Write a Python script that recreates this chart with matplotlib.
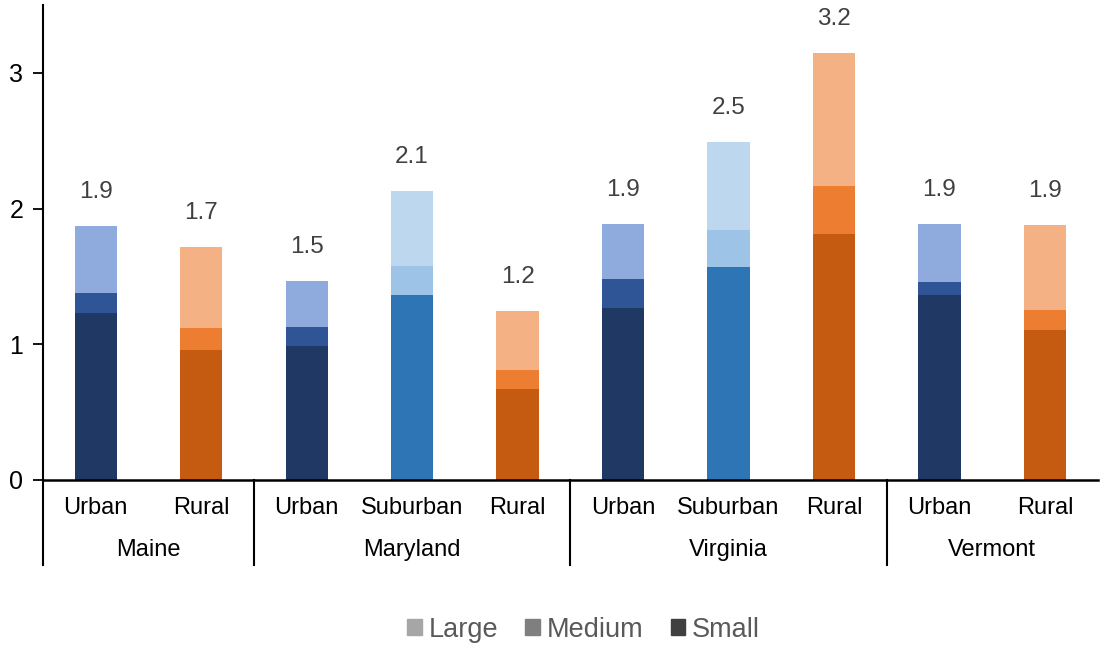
import matplotlib.pyplot as plt
import numpy as np
from matplotlib.patches import Patch
from matplotlib.transforms import blended_transform_factory

plt.rcParams['font.family'] = ['Liberation Sans', 'DejaVu Sans']

# data
states = ['Maine', 'Maryland', 'Virginia', 'Vermont']
areas = [['Urban', 'Rural'],
         ['Urban', 'Suburban', 'Rural'],
         ['Urban', 'Suburban', 'Rural'],
         ['Urban', 'Rural']]
small = [1.23, 0.96, 0.99, 1.36, 0.67, 1.27, 1.57, 1.81, 1.36, 1.105]
medium = [0.15, 0.16, 0.14, 0.22, 0.14, 0.21, 0.27, 0.36, 0.10, 0.145]
large = [0.49, 0.60, 0.34, 0.55, 0.435, 0.41, 0.65, 0.98, 0.43, 0.63]
totals = ['1.9', '1.7', '1.5', '2.1', '1.2', '1.9', '2.5', '3.2', '1.9', '1.9']

colors = {
    'Urban': ['#203864', '#2F5597', '#8FAADC'],
    'Suburban': ['#2E75B6', '#9DC3E6', '#BDD7EE'],
    'Rural': ['#C55A11', '#ED7D31', '#F4B183'],
}

cats = [a for grp in areas for a in grp]
x = np.arange(len(cats))

fig = plt.figure(figsize=(11.01, 6.46), dpi=100)
ax = fig.add_axes([0.039, 0.257, 0.958, 0.735])

small = np.array(small)
medium = np.array(medium)
large = np.array(large)
c_s = [colors[c][0] for c in cats]
c_m = [colors[c][1] for c in cats]
c_l = [colors[c][2] for c in cats]
w = 0.4
ax.bar(x, small, w, color=c_s)
ax.bar(x, medium, w, bottom=small, color=c_m)
ax.bar(x, large, w, bottom=small + medium, color=c_l)

top = small + medium + large
for xi, t, lab in zip(x, top, totals):
    ax.text(xi, t + 0.25, lab, ha='center', va='center', fontsize=17.5, color='#404040')

ax.set_xlim(-0.5, len(cats) - 0.5)
ax.set_ylim(0, 3.5)
ax.set_yticks([0, 1, 2, 3])
ax.tick_params(axis='y', labelsize=18, length=7, width=1.3, pad=7, colors='black')
ax.set_xticks(x)
ax.set_xticklabels(cats, fontsize=17)
ax.tick_params(axis='x', length=0, pad=12)
for s in ['top', 'right']:
    ax.spines[s].set_visible(False)
ax.spines['left'].set_linewidth(1.5)
ax.spines['bottom'].set_linewidth(1.8)

# group labels and separators
tr = blended_transform_factory(ax.transData, ax.transAxes)
start = 0
bounds = [-0.5]
for st, grp in zip(states, areas):
    mid = start + (len(grp) - 1) / 2
    ax.text(mid, -0.147, st, transform=tr, ha='center', va='center', fontsize=17)
    start += len(grp)
    bounds.append(start - 0.5)
for b in bounds[:-1]:
    ax.plot([b, b], [0, -0.18], transform=tr, color='black', lw=1.5, clip_on=False)

handles = [Patch(color='#A6A6A6', label='Large'),
           Patch(color='#7F7F7F', label='Medium'),
           Patch(color='#404040', label='Small')]
leg = fig.legend(handles=handles, loc='center', bbox_to_anchor=(0.53, 0.025), ncol=3,
                 frameon=False, fontsize=19.5, handlelength=0.55, handleheight=0.55,
                 handletextpad=0.25, columnspacing=1.0)
for t in leg.get_texts():
    t.set_color('#595959')

fig.savefig('out.png', dpi=100)
